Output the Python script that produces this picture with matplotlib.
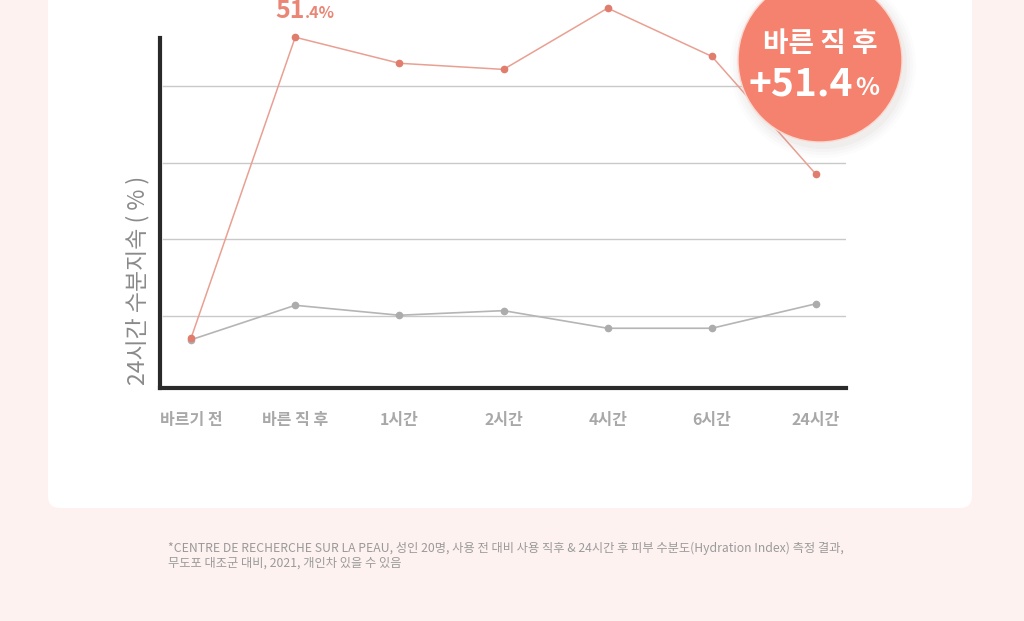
# -*- coding: utf-8 -*-
import matplotlib
matplotlib.use("Agg")
import matplotlib.pyplot as plt
from matplotlib.patches import FancyBboxPatch, Circle
from matplotlib.transforms import IdentityTransform

plt.rcParams['font.family'] = ['Noto Sans CJK KR', 'DejaVu Sans']

# 데이터
labels = ['바르기 전', '바른 직 후', '1시간', '2시간', '4시간', '6시간', '24시간']
product = [7.1, 46.4, 43.0, 42.2, 50.2, 43.9, 28.5]
control = [6.9, 11.4, 10.1, 10.7, 8.4, 8.4, 11.6]
grid_y = [10, 20, 30, 40]

salmon = '#e98676'
salmon_line = '#e9a092'
gray_line = '#b5b5b5'

W, H = 1024, 621
fig = plt.figure(figsize=(W / 100, H / 100), dpi=100)
fig.patch.set_facecolor('#fdf2f0')
px = IdentityTransform()

# 흰색 카드
card = FancyBboxPatch((48, H - 508), 924, 560, boxstyle='round,pad=0,rounding_size=12',
                      transform=px, facecolor='white', edgecolor='none', zorder=-1)
fig.patches.append(card)

ax = fig.add_axes([160 / W, (H - 388) / H, (846 - 160) / W, (388 - 38) / H])
ax.patch.set_visible(False)

x = list(range(len(labels)))
ax.plot(x, control, color=gray_line, lw=1.2, marker='o', ms=4.5,
        mfc='#acacac', mec='#acacac', clip_on=False, zorder=3)
ax.plot(x, product, color=salmon_line, lw=1.1, marker='o', ms=4.5,
        mfc='#e07d6d', mec='#e07d6d', clip_on=False, zorder=4)

for g in grid_y:
    ax.axhline(g, color='#c9c9c9', lw=1, zorder=1, xmin=0.005)

ax.set_xlim(-0.298, 6.288)
ax.set_ylim(0.6, 46.3)
for s in ['top', 'right']:
    ax.spines[s].set_visible(False)
for s in ['left', 'bottom']:
    ax.spines[s].set_linewidth(3)
    ax.spines[s].set_color('#2a2a2a')
ax.set_yticks([])
ax.set_xticks(x)
ax.set_xticklabels(labels, fontsize=11.5, color='#a8a8a8', fontweight='bold')
ax.tick_params(axis='x', length=0, pad=17)

fig.text(138, H - 280, '24시간 수분지속 ( % )', transform=px, rotation=90,
         ha='center', va='center', fontsize=16.5, color='#8a8a8a')

# 51.4% 라벨
fig.text(305, H - 18, '51', transform=px, ha='right', va='baseline',
         fontsize=18, fontweight='bold', color=salmon)
fig.text(305, H - 18, '.4%', transform=px, ha='left', va='baseline',
         fontsize=11.5, fontweight='bold', color=salmon)

# 원형 강조
cx, cy, r = 820, H - 60, 82
for i, a in enumerate([0.05, 0.04, 0.03, 0.02]):
    fig.patches.append(Circle((cx + 3, cy - 5), r + 2 + i * 3, transform=px,
                              facecolor='#9a8a88', alpha=a, edgecolor='none', zorder=2))
fig.patches.append(Circle((cx, cy), r, transform=px, facecolor='#f4826e',
                          edgecolor='#fbd8cf', lw=1, zorder=3))
fig.text(cx, H - 52, '바른 직 후', transform=px, ha='center', va='baseline',
         fontsize=20, fontweight='bold', color='white', zorder=5)
fig.text(853, H - 95, '+51.4', transform=px, ha='right', va='baseline',
         fontsize=28, fontweight='bold', color='white', zorder=5)
fig.text(855, H - 95, '%', transform=px, ha='left', va='baseline',
         fontsize=18, fontweight='bold', color='white', zorder=5)

# 각주
fig.text(168, H - 552, '*CENTRE DE RECHERCHE SUR LA PEAU, 성인 20명, 사용 전 대비 사용 직후 & 24시간 후 피부 수분도(Hydration Index) 측정 결과,',
         transform=px, ha='left', va='baseline', fontsize=8.8, color='#9a9a9a')
fig.text(168, H - 567, '무도포 대조군 대비, 2021, 개인차 있을 수 있음',
         transform=px, ha='left', va='baseline', fontsize=8.8, color='#9a9a9a')

fig.savefig('out.png', dpi=100, facecolor=fig.get_facecolor())
